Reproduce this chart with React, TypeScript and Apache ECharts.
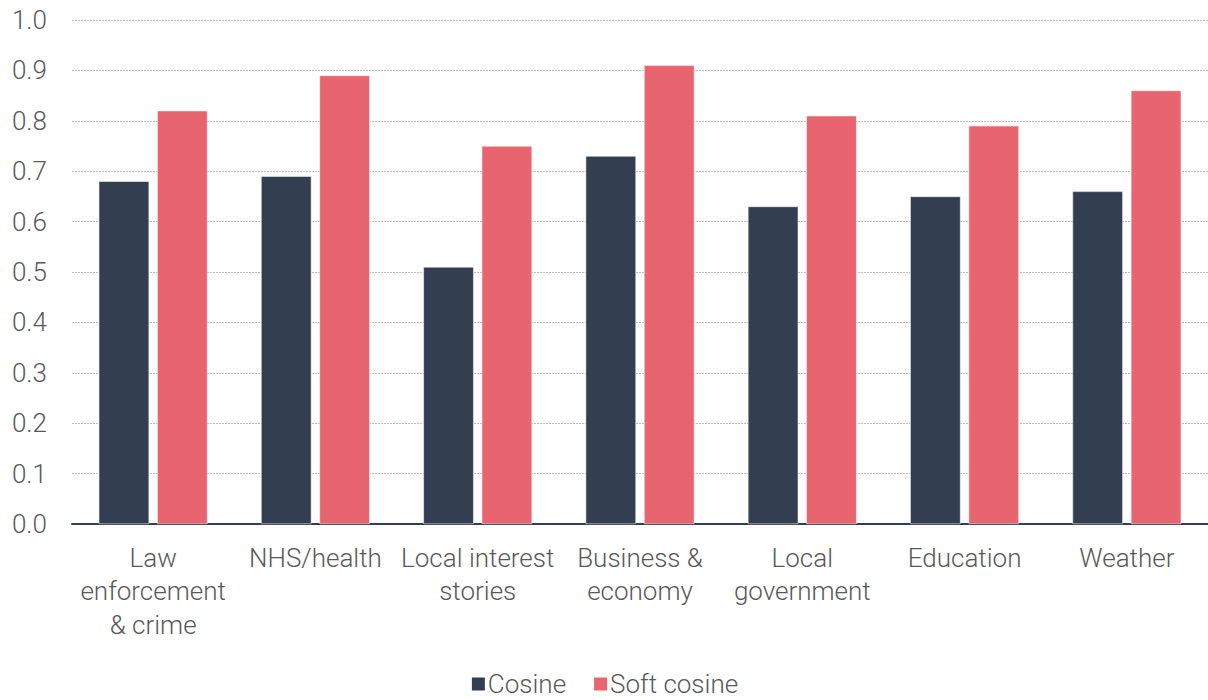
import React, { useEffect, useRef } from "react";
import * as echarts from "echarts";

const categories = [
  "Law\nenforcement\n& crime",
  "NHS/health",
  "Local interest\nstories",
  "Business &\neconomy",
  "Local\ngovernment",
  "Education",
  "Weather",
];
const cosine = [0.68, 0.69, 0.51, 0.73, 0.63, 0.65, 0.66];
const softCosine = [0.82, 0.89, 0.75, 0.91, 0.81, 0.79, 0.86];

const FONT = "Roboto, 'Liberation Sans', sans-serif";

export default function App() {
  const ref = useRef<HTMLDivElement>(null);
  useEffect(() => {
    const chart = echarts.init(ref.current!, null, { renderer: "svg" });
    chart.setOption({
      animation: false,
      textStyle: { fontFamily: FONT },
      grid: { left: 72, right: 0, top: 20, bottom: 176, containLabel: false },
      legend: {
        bottom: 3,
        padding: 0,
        left: "center",
        itemWidth: 15,
        itemHeight: 15,
        itemGap: 26,
        icon: "rect",
        textStyle: { fontSize: 26, lineHeight: 26, color: "#595959", fontWeight: 300, fontFamily: FONT, padding: [0, 0, 0, -3] },
        data: ["Cosine", "Soft cosine"],
      },
      xAxis: {
        type: "category",
        data: categories,
        axisLine: { lineStyle: { color: "#333F50", width: 2 } },
        axisTick: { show: false },
        axisLabel: {
          fontSize: 26,
          color: "#595959",
          fontWeight: 300,
          lineHeight: 33.5,
          margin: 17,
          interval: 0,
          fontFamily: FONT,
        },
      },
      yAxis: {
        type: "value",
        min: 0,
        max: 1,
        interval: 0.1,
        axisLine: { show: false },
        axisTick: { show: false },
        splitLine: { lineStyle: { color: "#BFBFBF", type: [2, 1], width: 1 } },
        axisLabel: {
          fontSize: 26,
          color: "#595959",
          fontWeight: 300,
          margin: 25,
          fontFamily: FONT,
          formatter: (v: number) => v.toFixed(1),
        },
      },
      series: [
        {
          name: "Cosine",
          type: "bar",
          data: cosine,
          barGap: "16%",
          barCategoryGap: "33%",
          itemStyle: { color: "#333F50", borderColor: "#fff", borderWidth: 0.5 },
        },
        {
          name: "Soft cosine",
          type: "bar",
          data: softCosine,
          itemStyle: { color: "#E8646E", borderColor: "#fff", borderWidth: 0.5 },
        },
      ],
    });
    return () => chart.dispose();
  }, []);
  return (
    <div
      ref={ref}
      style={{ position: "absolute", left: 0, top: 0, width: 1208, height: 700 }}
    />
  );
}
